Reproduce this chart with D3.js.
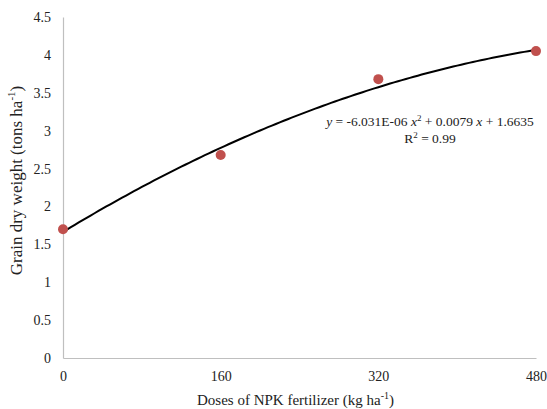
<!DOCTYPE html>
<html>
<head>
<meta charset="utf-8">
<script src="https://cdn.jsdelivr.net/npm/d3@7"></script>
<style>
  body { margin: 0; background: #fff; }
  text { font-family: "Liberation Serif", "Times New Roman", serif; fill: #222; }
</style>
</head>
<body>
<div class="chart"></div>
<script>
// observed data
var doses = [0, 160, 320, 480],
    grainWeight = [1.70, 2.68, 3.68, 4.05];

// polynomial trendline coefficients shown in the chart (a x^2 + b x + c)
var trendCoef = [-6.031e-06, 0.0079, 1.6635];

var xTicks = [0, 160, 320, 480],
    yTicks = [0, 0.5, 1, 1.5, 2, 2.5, 3, 3.5, 4, 4.5];

var W = 547, H = 409;
var margin = { top: 17, right: 11, bottom: 51, left: 63 },
    width = W - margin.left - margin.right,
    height = H - margin.top - margin.bottom;

var x = d3.scaleLinear().domain([0, 480]).range([0, width]);
var y = d3.scaleLinear().domain([0, 4.5]).range([height, 0]);

var svg = d3.select(".chart").append("svg")
    .attr("width", W)
    .attr("height", H)
    .append("g")
    .attr("transform", "translate(" + margin.left + "," + margin.top + ")");

// axes (no tick marks, grey lines)
var yAxis = svg.append("g")
    .call(d3.axisLeft(y).tickValues(yTicks).tickSize(0).tickPadding(12).tickFormat(d3.format("")));
var xAxis = svg.append("g")
    .attr("transform", "translate(0," + height + ")")
    .call(d3.axisBottom(x).tickValues(xTicks).tickSize(0).tickPadding(13));

[xAxis, yAxis].forEach(function (a) {
    a.select(".domain").attr("stroke", "#bfbfbf").attr("stroke-width", 1.2);
    a.selectAll("text").style("font-size", "14px").style("font-family", "Liberation Serif, serif").attr("fill", "#222");
});

// trendline
var fit = function (d) { return trendCoef[0] * d * d + trendCoef[1] * d + trendCoef[2]; };
var line = d3.line()
    .x(function (d) { return x(d); })
    .y(function (d) { return y(fit(d)); });

svg.append("path")
    .datum(d3.range(0, 481, 4))
    .attr("d", line)
    .attr("fill", "none")
    .attr("stroke", "#000")
    .attr("stroke-width", 2);

// points
svg.selectAll("circle")
    .data(doses)
    .enter().append("circle")
    .attr("cx", function (d) { return x(d); })
    .attr("cy", function (d, i) { return y(grainWeight[i]); })
    .attr("r", 5)
    .attr("fill", "#c0504d");

// equation
var eq = svg.append("text")
    .attr("x", 367)
    .attr("y", 109)
    .attr("text-anchor", "middle")
    .style("font-size", "13.5px");
eq.append("tspan").style("font-style", "italic").text("y");
eq.append("tspan").text(" = -6.031E-06  ");
eq.append("tspan").style("font-style", "italic").text("x");
eq.append("tspan").attr("dy", -5).style("font-size", "9px").text("2");
eq.append("tspan").attr("dy", 5).text(" + 0.0079 ");
eq.append("tspan").style("font-style", "italic").text("x");
eq.append("tspan").text(" + 1.6635");

var r2 = svg.append("text")
    .attr("x", 367)
    .attr("y", 126)
    .attr("text-anchor", "middle")
    .style("font-size", "13.5px");
r2.append("tspan").text("R");
r2.append("tspan").attr("dy", -5).style("font-size", "9px").text("2");
r2.append("tspan").attr("dy", 5).text(" = 0.99");

// axis titles
var xt = svg.append("text")
    .attr("x", width / 2 - 4)
    .attr("y", height + 47)
    .attr("text-anchor", "middle")
    .style("font-size", "15px");
xt.append("tspan").text("Doses of NPK fertilizer (kg ha");
xt.append("tspan").attr("dy", -6).style("font-size", "10px").text("-1");
xt.append("tspan").attr("dy", 6).text(")");

var yt = svg.append("text")
    .attr("transform", "translate(" + (-41) + "," + (height / 2 - 7) + ") rotate(-90)")
    .attr("text-anchor", "middle")
    .style("font-size", "17px");
yt.append("tspan").text("Grain dry weight (tons ha");
yt.append("tspan").attr("dy", -7).style("font-size", "11px").text("-1");
yt.append("tspan").attr("dy", 7).text(")");
</script>
</body>
</html>
